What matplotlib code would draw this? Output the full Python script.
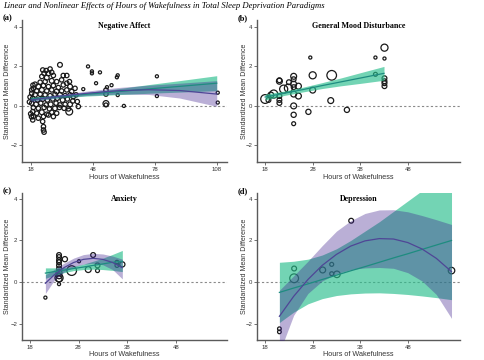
import matplotlib
matplotlib.use("Agg")
import matplotlib.pyplot as plt

# ---- (a) Negative Affect: study points ----
a_hours = [32.0, 23.65, 25.3, 27.2, 24.3, 26.4, 28.0, 23.2, 25.6, 28.8, 33.6, 35.3, 32.8, 30.4,
           28.0, 24.8, 22.4, 19.9, 21.5, 24.0, 26.4, 28.8, 31.2, 33.6, 35.3, 36.6, 36.9, 19.1,
           20.7, 23.2, 25.6, 28.0, 30.4, 32.8, 35.3, 37.7, 18.3, 19.9, 22.4, 24.8, 27.2, 29.6,
           32.0, 34.5, 36.9, 38.5, 18.8, 21.1, 23.6, 25.9, 28.5, 30.7, 33.3, 35.6, 38.2, 18.3,
           20.4, 22.7, 25.3, 27.5, 30.1, 32.0, 34.5, 36.9, 19.1, 21.5, 24.3, 26.9, 29.6, 31.7,
           34.0, 36.1, 18.8, 20.7, 23.2, 25.6, 28.0, 30.4, 19.1, 21.5, 24.0, 26.4, 28.8, 18.8,
           23.6, 24.0, 24.0, 24.3, 40.4, 40.9, 39.8, 39.3, 18.3, 18.9, 17.5, 17.2, 17.8, 18.2,
           36.5,
           45.6, 47.5, 47.5, 51.4, 49.5, 43.3, 54.8, 57.0, 54.3, 54.3, 54.3, 54.3, 59.6, 60.0,
           60.0, 63.0, 79.0, 79.0, 108.5, 108.5]
a_smd = [2.08, 1.82, 1.79, 1.87, 1.65, 1.65, 1.70, 1.49, 1.43, 1.54, 1.54, 1.54, 1.32, 1.23,
         1.27, 1.23, 1.20, 1.10, 0.98, 1.03, 0.98, 1.03, 0.93, 1.06, 1.15, 1.23, 0.98, 0.89,
         0.76, 0.81, 0.76, 0.81, 0.73, 0.76, 0.81, 0.73, 0.64, 0.56, 0.59, 0.56, 0.52, 0.59,
         0.56, 0.52, 0.56, 0.47, 0.39, 0.30, 0.35, 0.30, 0.35, 0.39, 0.30, 0.35, 0.25, 0.14,
         0.08, 0.14, 0.05, 0.08, 0.14, 0.05, 0.08, 0.08, -0.08, -0.12, -0.08, -0.15, -0.12, -0.08,
         -0.12, -0.15, -0.29, -0.37, -0.32, -0.42, -0.32, -0.37, -0.54, -0.62, -0.54, -0.46, -0.54, -0.71,
         -0.79, -1.05, -1.22, -1.33, 0.22, -0.03, 0.56, 0.89, 0.81, 1.05, 0.45, 0.20, -0.40, -0.55,
         -0.29,
         2.00, 1.75, 1.65, 1.70, 1.15, 0.85, 0.95, 1.05, 0.80, 0.60, 0.12, 0.05, 1.45, 1.55,
         0.55, 0.00, 1.50, 0.50, 0.67, 0.17]
a_size = [12, 10, 10, 10, 10, 12, 10, 10, 12, 10, 10, 10, 10, 10,
          12, 10, 10, 10, 12, 10, 10, 10, 10, 10, 10, 10, 12, 10,
          10, 12, 10, 10, 12, 10, 10, 10, 10, 12, 10, 10, 10, 10,
          12, 10, 10, 10, 10, 10, 12, 10, 10, 10, 12, 10, 10, 10,
          12, 10, 10, 12, 10, 10, 10, 12, 10, 10, 10, 10, 12, 10,
          10, 10, 10, 10, 12, 10, 10, 10, 10, 10, 10, 10, 10, 10,
          10, 10, 10, 10, 10, 10, 10, 10, 10, 10, 10, 10, 10, 10,
          24,
          5, 5, 5, 5, 5, 5, 5, 5, 10, 10, 18, 8, 5, 5,
          5, 5, 5, 5, 5, 5]

# (a) fitted lines and 95% bands
a_fx = [18, 30, 45, 60, 75, 90, 108]
a_lin = [0.35, 0.46, 0.59, 0.72, 0.86, 0.99, 1.15]
a_lin_lo = [0.26, 0.39, 0.50, 0.57, 0.64, 0.70, 0.77]
a_lin_hi = [0.44, 0.53, 0.68, 0.87, 1.08, 1.28, 1.53]
a_quad = [0.30, 0.47, 0.64, 0.77, 0.82, 0.78, 0.60]
a_quad_lo = [0.20, 0.39, 0.53, 0.60, 0.58, 0.40, -0.02]
a_quad_hi = [0.40, 0.55, 0.75, 0.93, 1.05, 1.15, 1.28]

# ---- (b) General Mood Disturbance ----
b_hours = [18.0, 18.7, 19.2, 19.8, 21.0, 21.0, 21.0, 21.0, 21.0, 21.9, 22.9, 23.0,
           24.0, 24.0, 24.0, 24.0, 24.0, 24.0, 24.0, 24.0, 25.0, 25.0, 27.1, 27.5,
           28.0, 28.0, 32.0, 31.8, 35.2, 41.2, 41.2, 43.1, 43.1, 43.1, 43.1, 43.1, 43.1]
b_smd = [0.35, 0.30, 0.55, 0.60, 1.25, 1.30, 0.50, 0.30, 0.15, 0.85, 0.90, 1.20,
         1.50, 1.35, 1.10, 0.95, 0.60, 0.00, -0.45, -0.90, 1.00, 0.50, -0.30, 2.45,
         1.55, 0.80, 1.55, 0.27, -0.20, 2.45, 1.60, 2.95, 2.40, 1.40, 1.25, 1.15, 1.00]
b_size = [40, 12, 18, 34, 18, 12, 12, 12, 12, 34, 34, 12,
          18, 12, 18, 12, 18, 18, 14, 8, 18, 18, 14, 5,
          26, 18, 48, 18, 14, 5, 8, 26, 5, 12, 12, 12, 12]
b_fx = [18, 22, 26, 30, 34, 38, 43]
b_lin = [0.45, 0.64, 0.83, 1.03, 1.22, 1.41, 1.65]
b_lin_lo = [0.30, 0.53, 0.71, 0.88, 1.02, 1.14, 1.30]
b_lin_hi = [0.60, 0.75, 0.95, 1.18, 1.42, 1.68, 2.00]

# ---- (c) Anxiety ----
c_hours = [21.2, 24.0, 24.0, 24.0, 24.0, 24.0, 24.0, 24.0, 24.0, 24.0, 24.0, 24.0,
           25.2, 26.6, 28.1, 30.0, 31.0, 31.9, 31.9, 35.9, 35.9, 37.0]
c_smd = [-0.75, 1.30, 1.20, 1.05, 0.95, 0.80, 0.65, 0.45, 0.30, 0.20, 0.15, -0.10,
         1.10, 0.55, 1.00, 0.60, 1.30, 0.80, 0.55, 0.95, 0.80, 0.85]
c_size = [5, 12, 12, 12, 12, 12, 12, 18, 18, 34, 18, 5,
          14, 48, 5, 18, 12, 12, 8, 8, 8, 14]
c_fx = [21.2, 23, 25, 27, 29, 31, 33, 35, 37]
c_lin = [0.43, 0.50, 0.57, 0.65, 0.72, 0.80, 0.87, 0.95, 1.00]
c_lin_lo = [0.18, 0.32, 0.45, 0.55, 0.60, 0.62, 0.60, 0.56, 0.50]
c_lin_hi = [0.68, 0.68, 0.70, 0.76, 0.86, 1.00, 1.15, 1.33, 1.52]
c_quad = [-0.06, 0.34, 0.69, 0.94, 1.09, 1.14, 1.09, 0.94, 0.69]
c_quad_lo = [-0.55, 0.08, 0.48, 0.73, 0.86, 0.90, 0.83, 0.60, 0.15]
c_quad_hi = [0.35, 0.60, 0.90, 1.15, 1.32, 1.38, 1.35, 1.25, 1.10]

# ---- (d) Depression ----
d_hours = [21.0, 21.0, 24.1, 24.1, 30.1, 32.0, 32.0, 33.1, 36.1, 57.2]
d_smd = [-2.25, -2.40, 0.65, 0.18, 0.58, 0.85, 0.40, 0.37, 2.95, 0.55]
d_size = [7, 7, 12, 40, 18, 8, 8, 22, 12, 22]
d_fx = [21, 24, 27, 30, 33, 36, 39, 42, 45, 48, 51, 54, 57.2]
d_lin = [-0.50, -0.29, -0.09, 0.12, 0.33, 0.54, 0.74, 0.95, 1.16, 1.36, 1.57, 1.78, 2.00]
d_lin_lo = [-1.95, -1.45, -1.05, -0.80, -0.65, -0.57, -0.53, -0.52, -0.55, -0.60, -0.67, -0.75, -0.85]
d_lin_hi = [0.95, 1.00, 1.10, 1.30, 1.60, 2.00, 2.45, 2.90, 3.40, 3.90, 4.40, 4.90, 5.40]
d_quad = [-1.65, -0.69, 0.12, 0.80, 1.33, 1.73, 1.98, 2.09, 2.07, 1.90, 1.59, 1.14, 0.50]
d_quad_lo = [-3.40, -1.60, -0.55, 0.05, 0.40, 0.60, 0.68, 0.70, 0.66, 0.45, 0.05, -0.60, -1.75]
d_quad_hi = [-0.40, 0.30, 1.00, 1.75, 2.45, 2.95, 3.30, 3.47, 3.48, 3.38, 3.20, 3.00, 2.77]

LIN_FILL = "#28BE8C"
LIN_LINE = "#1E8C80"
QUAD_FILL = "#3B1C8C"
QUAD_LINE = "#4F4696"
SPINE = "#5a5a5a"

plt.rcParams['font.family'] = ['Liberation Sans', 'DejaVu Sans']

fig = plt.figure(figsize=(4.85, 3.6), dpi=100, facecolor='white')
fig.text(0.006, 0.982, "Linear and Nonlinear Effects of Hours of Wakefulness in Total Sleep Deprivation Paradigms",
         family='Liberation Serif', style='italic', fontsize=6.2, va='center', ha='left')


def panel(rect, letter, title, hours, smd, size, xlim, xticks, ylim, fits, ylab_x, xlab_y):
    ax = fig.add_axes(rect)
    ax.set_xlim(*xlim)
    ax.set_ylim(*ylim)
    ax.axhline(0, color='#8a8a8a', lw=0.8, dashes=(2, 2), zorder=1)
    ax.scatter(hours, smd, s=size, facecolors='none', edgecolors='#1a1a1a', linewidths=0.9, zorder=2)
    for fx, line, lo, hi, fill, alpha, lcol in fits:
        ax.fill_between(fx, lo, hi, color=fill, alpha=alpha, lw=0, zorder=3)
        ax.plot(fx, line, color=lcol, lw=0.9, zorder=4)
    for s in ['top', 'right']:
        ax.spines[s].set_visible(False)
    for s in ['left', 'bottom']:
        ax.spines[s].set_color(SPINE)
        ax.spines[s].set_linewidth(1.0)
    ax.set_xticks(xticks)
    ax.set_yticks([-2, 0, 2, 4])
    ax.tick_params(labelsize=4.3, length=2, width=0.6, color=SPINE, labelcolor='#333333', pad=1.5)
    ax.set_xlabel("Hours of Wakefulness", fontsize=5.2, color='#333333')
    ax.set_ylabel("Standardized Mean Difference", fontsize=5.0, color='#333333')
    ax.yaxis.set_label_coords(ylab_x, 0.5)
    ax.xaxis.set_label_coords(0.5, xlab_y)
    ax.text(0.5, 0.96, title, transform=ax.transAxes, ha='center', va='center',
            family='Liberation Serif', weight='bold', fontsize=5.8)
    x0 = rect[0] - 0.04
    fig.text(x0, rect[1] + rect[3] + 0.005, letter, family='Liberation Serif', weight='bold',
             fontsize=6, ha='left', va='center')
    return ax


panel([0.0454, 0.55, 0.4227, 0.3944], "(a)", "Negative Affect", a_hours, a_smd, a_size,
      (13.6, 113), [18, 48, 78, 108], (-2.84, 4.35),
      [(a_fx, a_lin, a_lin_lo, a_lin_hi, LIN_FILL, 0.65, LIN_LINE),
       (a_fx, a_quad, a_quad_lo, a_quad_hi, QUAD_FILL, 0.35, QUAD_LINE)], -0.056, -0.082)

panel([0.53, 0.55, 0.4186, 0.3944], "(b)", "General Mood Disturbance", b_hours, b_smd, b_size,
      (16.3, 59), [18, 28, 38, 48], (-2.84, 4.35),
      [(b_fx, b_lin, b_lin_lo, b_lin_hi, LIN_FILL, 0.65, LIN_LINE)], -0.047, -0.082)

panel([0.0454, 0.0556, 0.4227, 0.408], "(c)", "Anxiety", c_hours, c_smd, c_size,
      (16.4, 58.5), [18, 28, 38, 48], (-2.79, 4.28),
      [(c_fx, c_lin, c_lin_lo, c_lin_hi, LIN_FILL, 0.65, LIN_LINE),
       (c_fx, c_quad, c_quad_lo, c_quad_hi, QUAD_FILL, 0.35, QUAD_LINE)], -0.056, -0.078)

panel([0.53, 0.0556, 0.4186, 0.408], "(d)", "Depression", d_hours, d_smd, d_size,
      (16.3, 59), [18, 28, 38, 48], (-2.79, 4.28),
      [(d_fx, d_lin, d_lin_lo, d_lin_hi, LIN_FILL, 0.65, LIN_LINE),
       (d_fx, d_quad, d_quad_lo, d_quad_hi, QUAD_FILL, 0.35, QUAD_LINE)], -0.047, -0.078)

fig.savefig("out.png", dpi=100, facecolor='white')
